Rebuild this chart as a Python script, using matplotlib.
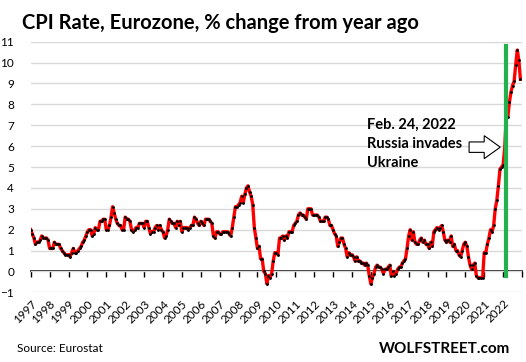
import numpy as np
import matplotlib
matplotlib.use("Agg")
import matplotlib.pyplot as plt
from matplotlib.patches import FancyArrow

plt.rcParams['font.family'] = ['Lato', 'DejaVu Sans']

# Eurozone HICP, % change from year ago, monthly Jan 1997 .. Dec 2022
cpi = [
    2.0, 1.8, 1.6, 1.3, 1.4, 1.4, 1.5, 1.7, 1.6, 1.6, 1.6, 1.5,   # 1997
    1.1, 1.1, 1.1, 1.4, 1.3, 1.3, 1.3, 1.1, 1.0, 0.9, 0.8, 0.8,   # 1998
    0.8, 0.7, 0.9, 1.1, 0.9, 0.9, 1.0, 1.1, 1.2, 1.4, 1.5, 1.7,   # 1999
    1.9, 2.0, 2.0, 1.7, 1.8, 2.1, 2.0, 2.0, 2.4, 2.4, 2.5, 2.5,   # 2000
    2.0, 2.0, 2.2, 2.6, 3.1, 2.8, 2.5, 2.3, 2.2, 2.2, 2.0, 2.0,   # 2001
    2.6, 2.5, 2.5, 2.4, 2.0, 1.9, 2.0, 2.1, 2.1, 2.3, 2.3, 2.3,   # 2002
    2.1, 2.4, 2.4, 2.1, 1.8, 1.9, 1.9, 2.1, 2.2, 2.0, 2.2, 2.0,   # 2003
    1.9, 1.6, 1.7, 2.0, 2.5, 2.4, 2.3, 2.3, 2.1, 2.4, 2.2, 2.4,   # 2004
    1.9, 2.1, 2.1, 2.1, 2.0, 2.1, 2.2, 2.2, 2.6, 2.5, 2.3, 2.2,   # 2005
    2.4, 2.3, 2.2, 2.5, 2.5, 2.5, 2.4, 2.3, 1.7, 1.6, 1.9, 1.9,   # 2006
    1.8, 1.8, 1.9, 1.9, 1.9, 1.9, 1.8, 1.7, 2.1, 2.6, 3.1, 3.1,   # 2007
    3.2, 3.3, 3.6, 3.3, 3.7, 4.0, 4.1, 3.8, 3.6, 3.2, 2.1, 1.6,   # 2008
    1.1, 1.2, 0.6, 0.6, 0.0, -0.1, -0.6, -0.2, -0.3, -0.1, 0.5, 0.9,  # 2009
    0.9, 0.8, 1.6, 1.6, 1.7, 1.5, 1.7, 1.6, 1.9, 1.9, 1.9, 2.2,   # 2010
    2.3, 2.4, 2.7, 2.8, 2.7, 2.7, 2.6, 2.5, 3.0, 3.0, 3.0, 2.7,   # 2011
    2.7, 2.7, 2.7, 2.6, 2.4, 2.4, 2.4, 2.6, 2.6, 2.5, 2.2, 2.2,   # 2012
    2.0, 1.8, 1.7, 1.2, 1.4, 1.6, 1.6, 1.3, 1.1, 0.7, 0.9, 0.8,   # 2013
    0.8, 0.7, 0.5, 0.7, 0.5, 0.5, 0.4, 0.4, 0.3, 0.4, 0.3, -0.2,  # 2014
    -0.6, -0.3, -0.1, 0.2, 0.3, 0.2, 0.2, 0.1, -0.1, 0.1, 0.1, 0.2,  # 2015
    0.3, -0.2, 0.0, -0.2, -0.1, 0.1, 0.2, 0.2, 0.4, 0.5, 0.6, 1.1,  # 2016
    1.7, 2.0, 1.5, 1.9, 1.4, 1.3, 1.3, 1.5, 1.6, 1.4, 1.5, 1.3,   # 2017
    1.3, 1.1, 1.4, 1.2, 1.9, 2.0, 2.1, 2.0, 2.1, 2.2, 1.9, 1.5,   # 2018
    1.4, 1.5, 1.4, 1.7, 1.2, 1.3, 1.0, 1.0, 0.8, 0.7, 1.0, 1.3,   # 2019
    1.4, 1.2, 0.7, 0.3, 0.1, 0.3, 0.4, -0.2, -0.3, -0.3, -0.3, -0.3,  # 2020
    0.9, 0.9, 1.3, 1.6, 2.0, 1.9, 2.2, 3.0, 3.4, 4.1, 4.9, 5.0,   # 2021
    5.1, 5.9, 7.4, 7.4, 8.1, 8.6, 8.9, 9.1, 9.9, 10.6, 10.1, 9.2,  # 2022
]
start_year = 1997
years = list(range(1997, 2023))
y_ticks = list(range(-1, 12))

invasion_date = 2022 + 54 / 365.0
invasion_text = "Feb. 24, 2022\nRussia invades\nUkraine"

x = start_year + np.arange(len(cpi)) / 12.0

fig = plt.figure(figsize=(5.26, 3.62), dpi=100)
ax = fig.add_axes([0.0584, 0.1925, 0.9340, 0.6923])

ax.set_xlim(1997, 2023)
ax.set_ylim(-1, 11)
ax.set_yticks(y_ticks)
ax.yaxis.grid(True, color='#d9d9d9', lw=1)
ax.set_axisbelow(True)
for s in ax.spines.values():
    s.set_visible(False)
ax.tick_params(axis='y', length=0, pad=12, labelsize=8.5)
for lab in ax.get_yticklabels():
    lab.set_horizontalalignment('right')

# year labels at the bottom, ticks on the zero line
ax.set_xticks(years)
ax.set_xticklabels([str(y) for y in years], rotation=45, ha='right',
                   rotation_mode='anchor', fontsize=8.5)
ax.tick_params(axis='x', length=0, pad=4)

sec = ax.secondary_xaxis(0, transform=ax.transData)
sec.set_xticks(years + [2023])
sec.set_xticklabels([])
sec.tick_params(axis='x', direction='out', length=4, width=1, color='black')
sec.spines['bottom'].set_color('black')
sec.spines['bottom'].set_linewidth(1.2)

ax.plot(x, cpi, color='#ff0000', lw=2.4, zorder=3,
        marker='o', markersize=2.0, markerfacecolor='black',
        markeredgecolor='black', markeredgewidth=0)

ax.plot([invasion_date, invasion_date], [-0.2, 10.8], color='#22b14c', lw=3, zorder=4)

ax.text(2014.8, 7.35, invasion_text, fontsize=10.5, fontweight='bold',
        va='top', ha='left', linespacing=1.45, zorder=6)
ax.add_patch(FancyArrow(2020.2, 5.95, 1.65, 0, width=0.5, head_width=1.1,
                        head_length=0.85, length_includes_head=True,
                        facecolor='white', edgecolor='black', lw=0.8, zorder=5))

fig.text(22 / 526, 1 - 23 / 362, "CPI Rate, Eurozone, % change from year ago",
         fontsize=14.5, fontweight='bold', va='center', ha='left')
fig.text(17 / 526, 1 - 349 / 362, "Source: Eurostat", fontsize=8.5,
         va='center', ha='left')
fig.text(510 / 526, 1 - 349 / 362, "WOLFSTREET.com", fontsize=11,
         fontweight='bold', va='center', ha='right')

fig.savefig('out.png', dpi=100)
